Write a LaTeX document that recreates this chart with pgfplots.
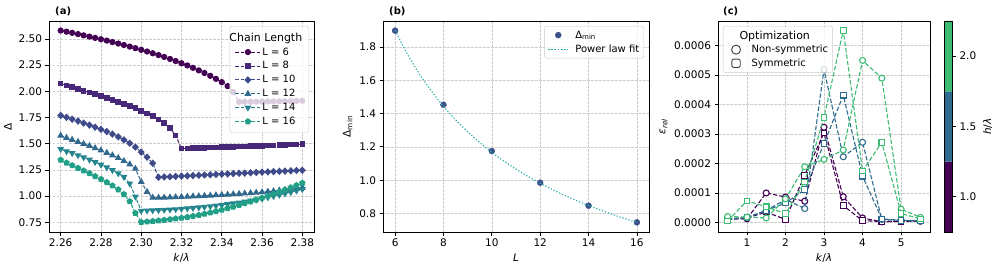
\documentclass[border=0pt]{standalone}
\usepackage{pgfplots}
\pgfplotsset{compat=1.18}
\usepackage{pgfplotstable}
\usetikzlibrary{plotmarks}
\usepackage{fontspec}
\setmainfont{DejaVu Sans}

\definecolor{cA}{HTML}{440154}
\definecolor{cB}{HTML}{482878}
\definecolor{cC}{HTML}{3E4A89}
\definecolor{cD}{HTML}{31688E}
\definecolor{cE}{HTML}{25858E}
\definecolor{cF}{HTML}{22A087}
\definecolor{cPt}{HTML}{3B528B}
\definecolor{cFit}{HTML}{2AB0A8}
\definecolor{hA}{HTML}{440154}
\definecolor{hB}{HTML}{2F6B8E}
\definecolor{hC}{HTML}{3DBC74}

\pgfplotstableread{
x l6 l8 l10 l12 l14 l16
2.2600 2.580 2.073 1.770 1.578 1.449 1.346
2.2629 2.569 2.056 1.752 1.557 1.428 1.318
2.2657 2.558 2.039 1.734 1.538 1.410 1.293
2.2686 2.546 2.022 1.716 1.518 1.390 1.268
2.2714 2.534 2.005 1.697 1.499 1.370 1.243
2.2743 2.522 1.988 1.678 1.479 1.348 1.218
2.2771 2.510 1.972 1.658 1.458 1.325 1.190
2.2800 2.497 1.955 1.637 1.437 1.300 1.162
2.2829 2.484 1.937 1.616 1.414 1.274 1.132
2.2857 2.470 1.919 1.592 1.390 1.248 1.100
2.2886 2.456 1.901 1.566 1.365 1.218 1.063
2.2914 2.442 1.882 1.537 1.336 1.183 1.018
2.2943 2.427 1.862 1.505 1.304 1.120 0.950
2.2971 2.412 1.840 1.468 1.262 0.995 0.838
2.3000 2.396 1.812 1.420 1.137 0.860 0.752
2.3029 2.380 1.789 1.372 1.041 0.862 0.756
2.3057 2.363 1.763 1.314 0.986 0.864 0.761
2.3086 2.346 1.733 1.180 0.985 0.866 0.766
2.3114 2.328 1.697 1.183 0.987 0.869 0.772
2.3143 2.309 1.650 1.185 0.989 0.872 0.778
2.3171 2.289 1.580 1.188 0.991 0.875 0.785
2.3200 2.268 1.455 1.191 0.993 0.879 0.792
2.3229 2.247 1.456 1.193 0.995 0.883 0.800
2.3257 2.224 1.458 1.196 0.998 0.887 0.809
2.3286 2.200 1.460 1.199 1.000 0.892 0.819
2.3314 2.175 1.462 1.202 1.003 0.897 0.830
2.3343 2.148 1.463 1.204 1.006 0.903 0.842
2.3371 2.119 1.465 1.207 1.009 0.909 0.855
2.3400 2.088 1.467 1.210 1.012 0.916 0.869
2.3429 2.050 1.469 1.212 1.015 0.923 0.884
2.3457 1.993 1.471 1.215 1.019 0.931 0.899
2.3486 1.900 1.473 1.218 1.022 0.939 0.915
2.3514 1.900 1.475 1.220 1.026 0.948 0.931
2.3543 1.901 1.477 1.223 1.030 0.957 0.948
2.3571 1.901 1.479 1.226 1.034 0.966 0.965
2.3600 1.902 1.481 1.229 1.038 0.976 0.983
2.3629 1.903 1.483 1.231 1.043 0.988 1.002
2.3657 1.904 1.485 1.234 1.048 1.000 1.021
2.3686 1.905 1.487 1.237 1.054 1.012 1.041
2.3714 1.906 1.489 1.239 1.060 1.025 1.061
2.3743 1.907 1.491 1.242 1.066 1.038 1.082
2.3771 1.908 1.493 1.245 1.073 1.052 1.103
2.3800 1.910 1.495 1.247 1.080 1.066 1.125
}\dataA

\pgfplotsset{
  every axis/.append style={
    scale only axis,
    clip mode=individual,
    axis line style={line width=0.8pt},
    every tick/.style={line width=0.8pt, black},
    tick align=outside,
    major tick length=3.5pt,
    tick pos=left,
    grid=major,
    major grid style={line width=0.6pt, color=gray!40, dash pattern=on 2.5pt off 1.5pt},
    tick label style={font=\fontsize{10.5}{12}\selectfont},
    label style={font=\fontsize{10.5}{12}\selectfont},
    /pgf/number format/assume math mode=true,
    legend cell align=left,
    legend image post style={opacity=1},
  },
}

\begin{document}
\begin{tikzpicture}
\useasboundingbox (0,0) rectangle (997pt,268pt);

% ---------------- (a)
\begin{axis}[
  at={(49pt,36pt)}, anchor=south west,
  width=265pt, height=211pt,
  xmin=2.2542, xmax=2.3858, ymin=0.658, ymax=2.671,
  xtick={2.26,2.28,2.30,2.32,2.34,2.36,2.38},
  ytick={0.75,1.00,1.25,1.50,1.75,2.00,2.25,2.50},
  xticklabel style={/pgf/number format/.cd,fixed,fixed zerofill,precision=2},
  yticklabel style={/pgf/number format/.cd,fixed,fixed zerofill,precision=2},
  xlabel={\textit{k}/\textit{λ}}, ylabel={Δ},
  legend image code/.code={\draw[mark repeat=2,mark phase=2] plot coordinates {(0pt,0pt) (12.5pt,0pt) (25pt,0pt)};},
  legend style={at={(0.981,0.976)}, anchor=north east, draw=gray!40, rounded corners=2pt,
    fill=white, fill opacity=0.8, draw opacity=1, text opacity=1,
    font=\fontsize{10}{12}\selectfont, row sep=2pt, inner sep=5pt, nodes={inner sep=1.5pt}},
]
\addlegendimage{empty legend}
\addlegendentry{\hspace{-33pt}\fontsize{11}{12}\selectfont Chain Length}
\addplot[cA, line width=1pt, dash pattern=on 3.7pt off 1.6pt, mark=*, mark size=2.6pt, mark options={solid}] table[x=x,y=l6]{\dataA};
\addlegendentry{L = 6}
\addplot[cB, line width=1pt, dash pattern=on 3.7pt off 1.6pt, mark=square*, mark size=2.3pt, mark options={solid}] table[x=x,y=l8]{\dataA};
\addlegendentry{L = 8}
\addplot[cC, line width=1pt, dash pattern=on 3.7pt off 1.6pt, mark=diamond*, mark size=3pt, mark options={solid,xscale=1.25}] table[x=x,y=l10]{\dataA};
\addlegendentry{L = 10}
\addplot[cD, line width=1pt, dash pattern=on 3.7pt off 1.6pt, mark=triangle*, mark size=3pt, mark options={solid}] table[x=x,y=l12]{\dataA};
\addlegendentry{L = 12}
\addplot[cE, line width=1pt, dash pattern=on 3.7pt off 1.6pt, mark=triangle*, mark size=3pt, mark options={solid,rotate=180}] table[x=x,y=l14]{\dataA};
\addlegendentry{L = 14}
\addplot[cF, line width=1pt, dash pattern=on 3.7pt off 1.6pt, mark=pentagon*, mark size=2.8pt, mark options={solid}] table[x=x,y=l16]{\dataA};
\addlegendentry{L = 16}
\node[anchor=south west, inner sep=0pt, font=\fontsize{10}{12}\selectfont\bfseries] at ([xshift=6pt,yshift=5pt]rel axis cs:0,1) {(a)};
\end{axis}

% ---------------- (b)
\begin{axis}[
  at={(383pt,36pt)}, anchor=south west,
  width=266pt, height=211pt,
  xmin=5.5, xmax=16.5, ymin=0.689, ymax=1.956,
  xtick={6,8,10,12,14,16},
  ytick={0.8,1.0,1.2,1.4,1.6,1.8},
  yticklabel style={/pgf/number format/.cd,fixed,fixed zerofill,precision=1},
  xlabel={\textit{L}}, ylabel={Δ\textsubscript{min}},
  legend image code/.code={\draw[mark repeat=2,mark phase=2] plot coordinates {(0pt,0pt) (10pt,0pt) (20pt,0pt)};},
  legend style={at={(0.981,0.976)}, anchor=north east, draw=gray!40, rounded corners=2pt,
    fill=white, fill opacity=0.8, draw opacity=1, text opacity=1,
    font=\fontsize{10}{12}\selectfont, row sep=2pt, inner sep=3pt, nodes={inner sep=1.5pt},
    every even column/.style={column sep=0pt}},
]
\addplot[only marks, mark=*, mark size=3pt, color=cPt] coordinates {
 (6,1.898) (8,1.453) (10,1.175) (12,0.985) (14,0.847) (16,0.747)};
\addlegendentry{\hspace{5pt}Δ\textsubscript{min}}
\addplot[cFit, line width=1.2pt, dash pattern=on 1.2pt off 1.9pt, smooth] coordinates {
 (6,1.8980) (6.5,1.7589) (7,1.6392) (7.5,1.5351) (8,1.4437) (8.5,1.3629) (9,1.2907)
 (9.5,1.2260) (10,1.1676) (10.5,1.1147) (11,1.0664) (11.5,1.0223) (12,0.9818)
 (12.5,0.9444) (13,0.9098) (13.5,0.8777) (14,0.8479) (14.5,0.8201) (15,0.7940)
 (15.5,0.7697) (16,0.7468)};
\addlegendentry{\hspace{5pt}Power law fit}
\node[anchor=south west, inner sep=0pt, font=\fontsize{10}{12}\selectfont\bfseries] at ([xshift=6pt,yshift=5pt]rel axis cs:0,1) {(b)};
\end{axis}

% ---------------- (c)
\begin{axis}[
  at={(718pt,36pt)}, anchor=south west,
  width=212pt, height=211pt,
  xmin=0.25, xmax=5.75, ymin=-0.0000326, ymax=0.000684,
  xtick={1,2,3,4,5},
  ytick={0,0.0001,0.0002,0.0003,0.0004,0.0005,0.0006},
  scaled y ticks=false,
  yticklabel style={/pgf/number format/.cd,fixed,fixed zerofill,precision=4},
  xlabel={\textit{k}/\textit{λ}}, ylabel={\textit{ε}\textsubscript{\textit{rel}}},
  legend style={at={(0.023,0.976)}, anchor=north west, draw=gray!40, rounded corners=2pt,
    fill=white, fill opacity=0.8, draw opacity=1, text opacity=1,
    font=\fontsize{10}{12}\selectfont, row sep=1.5pt, inner sep=3pt, nodes={inner sep=1.5pt}},
]
\addlegendimage{empty legend}
\addlegendentry{\hspace{-12pt}\fontsize{11}{12}\selectfont Optimization}
\addlegendimage{legend image code/.code={\path[draw=none,fill=none] (0pt,-1pt) rectangle (24pt,1pt); \draw[draw=black!75, fill=white, line width=0.9pt, solid] (10pt,0pt) circle (4.5pt);}}
\addlegendentry{Non-symmetric}
\addlegendimage{legend image code/.code={\path[draw=none,fill=none] (0pt,-1pt) rectangle (24pt,1pt); \draw[draw=black!75, fill=white, line width=0.9pt, solid] (5.8pt,-4.2pt) rectangle (14.2pt,4.2pt);}}
\addlegendentry{Symmetric}

\addplot[hA, line width=1.1pt, dash pattern=on 4.5pt off 2pt, mark=*, mark size=3pt, mark options={solid, fill=white}, forget plot] coordinates {
 (0.5,1.2e-5) (1.0,1.2e-5) (1.5,1.00e-4) (2.0,8.6e-5) (2.5,7.2e-5) (3.0,3.23e-4) (3.5,8.7e-5) (4.0,1.5e-5) (4.5,2e-6) (5.0,5e-6) (5.5,4e-6)};
\addplot[hA, line width=1.1pt, dash pattern=on 4.5pt off 2pt, mark=square*, mark size=2.8pt, mark options={solid, fill=white}, forget plot] coordinates {
 (0.5,1.0e-5) (1.0,1.5e-5) (1.5,3.5e-5) (2.0,1.0e-5) (2.5,1.60e-4) (3.0,3.04e-4) (3.5,5.7e-5) (4.0,6e-6) (4.5,3e-6) (5.0,3e-6) (5.5,5e-6)};
\addplot[hB, line width=1.1pt, dash pattern=on 4.5pt off 2pt, mark=*, mark size=3pt, mark options={solid, fill=white}, forget plot] coordinates {
 (0.5,1.3e-5) (1.0,1.7e-5) (1.5,4.0e-5) (2.0,7.8e-5) (2.5,4.7e-5) (3.0,5.19e-4) (3.5,2.23e-4) (4.0,2.72e-4) (4.5,1.0e-5) (5.0,7e-6) (5.5,4e-6)};
\addplot[hB, line width=1.1pt, dash pattern=on 4.5pt off 2pt, mark=square*, mark size=2.8pt, mark options={solid, fill=white}, forget plot] coordinates {
 (0.5,1.0e-5) (1.0,1.7e-5) (1.5,4.0e-5) (2.0,6.6e-5) (2.5,1.11e-4) (3.0,2.68e-4) (3.5,4.32e-4) (4.0,1.57e-4) (4.5,1.2e-5) (5.0,7e-6) (5.5,6e-6)};
\addplot[hC, line width=1.1pt, dash pattern=on 4.5pt off 2pt, mark=*, mark size=3pt, mark options={solid, fill=white}, forget plot] coordinates {
 (0.5,2.0e-5) (1.0,1.8e-5) (1.5,1.5e-5) (2.0,8.0e-5) (2.5,1.89e-4) (3.0,2.14e-4) (3.5,2.46e-4) (4.0,5.50e-4) (4.5,4.90e-4) (5.0,4.5e-5) (5.5,1.7e-5)};
\addplot[hC, line width=1.1pt, dash pattern=on 4.5pt off 2pt, mark=square*, mark size=2.8pt, mark options={solid, fill=white}, forget plot] coordinates {
 (0.5,5e-6) (1.0,7.3e-5) (1.5,5.3e-5) (2.0,3.0e-5) (2.5,1.37e-4) (3.0,3.56e-4) (3.5,6.52e-4) (4.0,1.75e-4) (4.5,2.72e-4) (5.0,3.0e-5) (5.5,1.2e-5)};
\node[anchor=south west, inner sep=0pt, font=\fontsize{10}{12}\selectfont\bfseries] at ([xshift=5pt,yshift=5pt]rel axis cs:0,1) {(c)};
\end{axis}

% ---------------- colorbar
\begin{axis}[
  at={(944pt,36pt)}, anchor=south west,
  width=8.5pt, height=211pt,
  xmin=0, xmax=1, ymin=0.75, ymax=2.25,
  xtick=\empty, ytick={1.0,1.5,2.0},
  ytick pos=right, yticklabel pos=right, grid=none,
  axis on top,
  yticklabel style={/pgf/number format/.cd,fixed,fixed zerofill,precision=1},
  ylabel={\textit{h}/\textit{λ}},
]
\addplot[fill=hA, draw=none] coordinates {(0,0.75) (1,0.75) (1,1.25) (0,1.25) (0,0.75)};
\addplot[fill=hB, draw=none] coordinates {(0,1.25) (1,1.25) (1,1.75) (0,1.75) (0,1.25)};
\addplot[fill=hC, draw=none] coordinates {(0,1.75) (1,1.75) (1,2.25) (0,2.25) (0,1.75)};
\end{axis}
\end{tikzpicture}
\end{document}
